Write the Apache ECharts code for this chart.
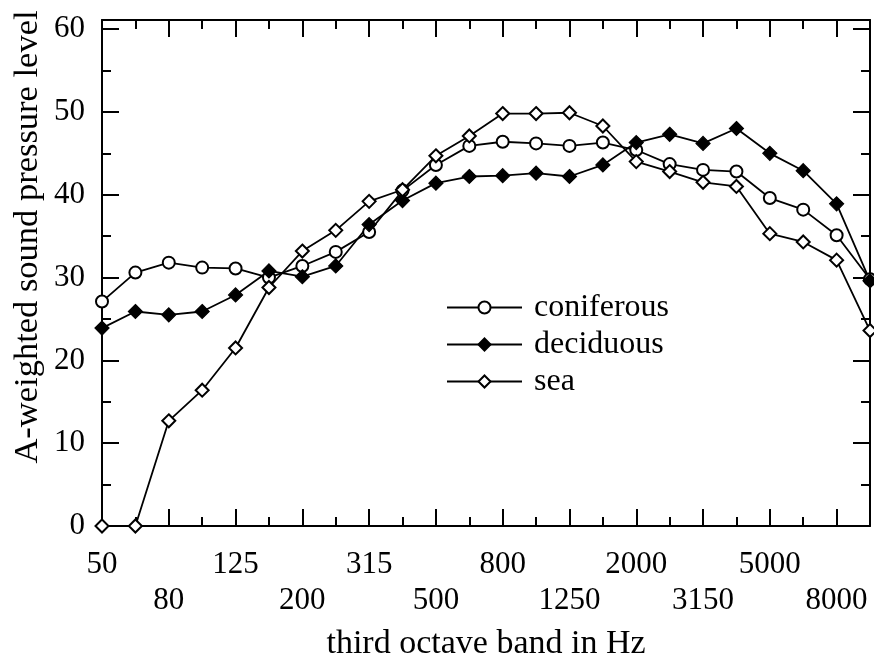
<!DOCTYPE html>
<html>
<head>
<meta charset="utf-8">
<script src="https://cdn.jsdelivr.net/npm/echarts@6/dist/echarts.min.js"></script>
<style>
  html, body { margin: 0; padding: 0; background: #fff; }
  #chart { width: 874px; height: 653px; }
</style>
</head>
<body>
<div id="chart"></div>
<script>
// Third-octave band centre frequencies (Hz)
const bands = ['50', '63', '80', '100', '125', '160', '200', '250', '315', '400', '500', '630',
  '800', '1000', '1250', '1600', '2000', '2500', '3150', '4000', '5000', '6300', '8000', '10000'];

// A-weighted sound pressure level per band
const coniferous = [27.1, 30.6, 31.8, 31.2, 31.1, 30.0, 31.4, 33.1, 35.5, 40.5, 43.6, 45.9,
  46.4, 46.2, 45.9, 46.3, 45.4, 43.7, 43.0, 42.8, 39.6, 38.2, 35.1, 29.8];
const deciduous = [23.9, 25.9, 25.5, 25.9, 27.9, 30.8, 30.1, 31.4, 36.4, 39.3, 41.4, 42.2,
  42.3, 42.6, 42.2, 43.6, 46.3, 47.3, 46.2, 48.0, 45.0, 42.9, 38.9, 29.6];
const sea = [0, 0, 12.7, 16.4, 21.5, 28.8, 33.2, 35.7, 39.2, 40.6, 44.7, 47.1,
  49.8, 49.8, 49.9, 48.3, 44.0, 42.8, 41.5, 41.0, 35.3, 34.3, 32.1, 23.6];

const yTicks = { min: 0, max: 61.1, step: 10 };

const FONT = '"Liberation Serif", "Times New Roman", serif';
const INK = '#000';

const chart = echarts.init(document.getElementById('chart'), null, { renderer: 'canvas' });

const isMajor = (i) => i % 2 === 0;
const isMinor = (i) => i % 2 === 1;

function catAxis(position, tickLen, tickFilter, withLabels, showLine) {
  return {
    type: 'category',
    data: bands,
    position: position,
    boundaryGap: false,
    axisLine: { show: showLine, lineStyle: { color: INK, width: 2 } },
    axisTick: { show: true, inside: true, length: tickLen, interval: tickFilter,
      lineStyle: { color: INK, width: 2 } },
    axisLabel: withLabels ? {
      show: true,
      interval: tickFilter,
      // alternate labels drop to a second row
      formatter: (v, i) => (i % 4 === 0 ? v : '\n' + v),
      fontFamily: FONT, fontSize: 31, color: INK,
      lineHeight: 36, margin: 21
    } : { show: false },
    splitLine: { show: false }
  };
}

function valAxis(position, withLabels) {
  return {
    type: 'value',
    position: position,
    min: yTicks.min, max: yTicks.max, interval: yTicks.step,
    axisLine: { show: true, lineStyle: { color: INK, width: 2 } },
    axisTick: { show: true, inside: true, length: 17, lineStyle: { color: INK, width: 2 } },
    minorTick: { show: true, splitNumber: 2, length: 9, lineStyle: { color: INK, width: 2 } },
    axisLabel: withLabels ? {
      show: true, showMaxLabel: false,
      fontFamily: FONT, fontSize: 31, color: INK, margin: 17
    } : { show: false },
    splitLine: { show: false },
    minorSplitLine: { show: false }
  };
}

function lineSeries(name, data, symbol, size) {
  return {
    name: name,
    type: 'line',
    data: data,
    symbol: symbol,
    symbolSize: size,
    showSymbol: true,
    silent: true,
    lineStyle: { color: INK, width: 1.8 },
    itemStyle: { color: INK, borderColor: INK, borderWidth: 1.2 },
    emphasis: { disabled: true }
  };
}

const xAxisMain = catAxis('bottom', 17, isMajor, true, true);
xAxisMain.name = 'third octave band in Hz';
xAxisMain.nameLocation = 'middle';
xAxisMain.nameGap = 101;
xAxisMain.nameMoveOverlap = false;
xAxisMain.nameTextStyle = { fontFamily: FONT, fontSize: 34, color: INK };

chart.setOption({
  animation: false,
  backgroundColor: '#fff',
  grid: { left: 102, right: 4, top: 20, bottom: 127, containLabel: false, outerBoundsMode: 'none' },
  xAxis: [
    xAxisMain,
    catAxis('bottom', 9, isMinor, false, false),
    catAxis('top', 17, isMajor, false, true),
    catAxis('top', 9, isMinor, false, false)
  ],
  yAxis: [valAxis('left', true), valAxis('right', false)],
  legend: {
    orient: 'vertical',
    left: 446,
    top: 289,
    padding: 0,
    itemGap: 0,
    itemWidth: 75,
    itemHeight: 15,
    textStyle: { fontFamily: FONT, fontSize: 32, color: INK, lineHeight: 37, padding: [0, 0, 0, 7] },
    selectedMode: false,
    data: ['coniferous', 'deciduous', 'sea']
  },
  graphic: [{
    type: 'text',
    x: 28,
    y: 237,
    rotation: Math.PI / 2,
    style: {
      text: 'A-weighted sound pressure level',
      font: '34.5px ' + FONT,
      fill: INK,
      textAlign: 'center',
      textVerticalAlign: 'middle'
    }
  }],
  series: [
    lineSeries('coniferous', coniferous, 'emptyCircle', 12),
    lineSeries('deciduous', deciduous, 'diamond', 14),
    lineSeries('sea', sea, 'emptyDiamond', 13)
  ]
});
</script>
</body>
</html>
